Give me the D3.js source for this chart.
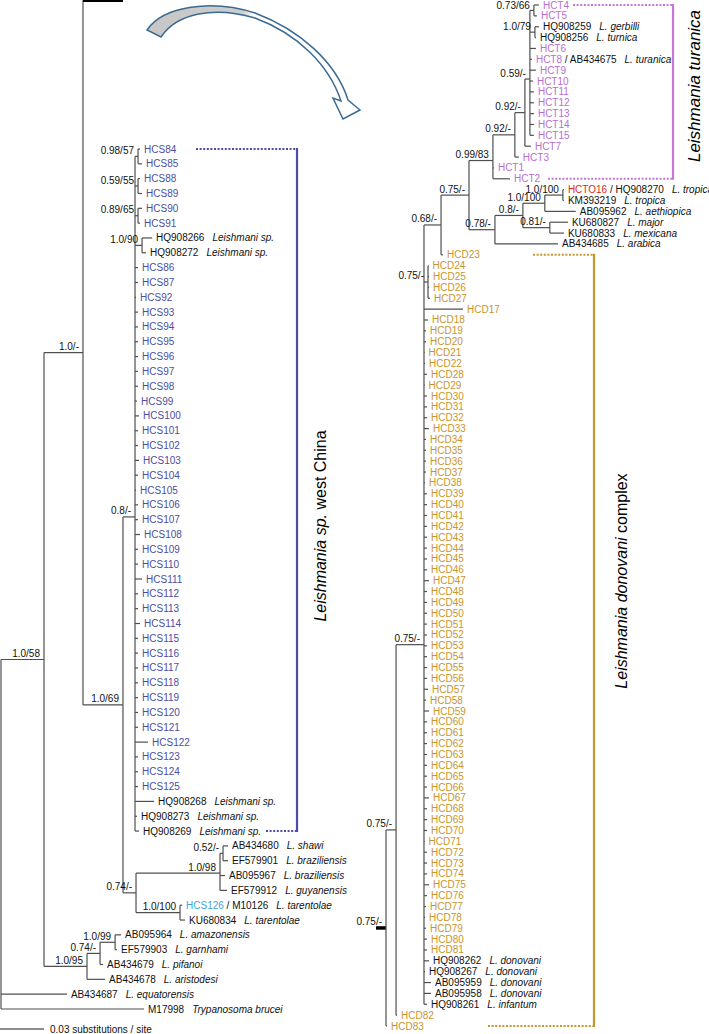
<!DOCTYPE html>
<html><head><meta charset="utf-8">
<script src="https://cdn.jsdelivr.net/npm/d3@7"></script>
<style>
body{margin:0;background:#fff;}
svg text{font-family:"Liberation Sans",Arial,Helvetica,sans-serif;white-space:pre;}
</style></head><body>
<svg id="chart" width="709" height="1034"></svg>
<script>
// ---------- DATA ----------
// internal nodes: [id, parent, branch length (subst./site), support (posterior/bootstrap)]
const internalNodes = [
["root", null, 0, ""],
["N58","root",0.0300,"1.0/58"],
["N10","N58",0.0272,"1.0/-"],
["RT","N10",0.0279,"0.75/-"],
["N075a","RT",0.0070,"0.75/-"],
["N075b","N075a",0.0195,"0.75/-"],
["N068","N075b",0.0119,"0.68/-"],
["N075c","N068",0.0195,"0.75/-"],
["N099","N075c",0.0167,"0.99/83"],
["N092a","N099",0.0153,"0.92/-"],
["N092b","N092a",0.0070,"0.92/-"],
["N059","N092b",0.0035,"0.59/-"],
["N7366","N059",0.0028,"0.73/66"],
["N079","N059",0.0035,"1.0/79"],
["N078","N075c",0.0181,"0.78/-"],
["N08r","N078",0.0195,"0.8/-"],
["N100a","N08r",0.0153,"1.0/100"],
["N100b","N100a",0.0126,"1.0/100"],
["N081","N08r",0.0188,"0.81/-"],
["N075d","N075b",0.0028,"0.75/-"],
["N69","N10",0.0279,"1.0/69"],
["N08","N69",0.0084,"0.8/-"],
["N0957","N08",0.0021,"0.98/57"],
["N5955","N08",0.0021,"0.59/55"],
["N8965","N08",0.0021,"0.89/65"],
["N9010","N08",0.0049,"1.0/90"],
["N074","N69",0.0091,"0.74/-"],
["N98","N074",0.0586,"1.0/98"],
["N052","N98",0.0021,"0.52/-"],
["N100L","N074",0.0307,"1.0/100"],
["N95","N58",0.0300,"1.0/95"],
["N074b","N95",0.0091,"0.74/-"],
["N99","N074b",0.0105,"1.0/99"]
];

// leaves of the moved subtree (right column), top to bottom:
// [name, parent, branch length, linked accession, species]
const rightLeaves = [
["HCT4","N7366",0.0035],
["HCT5","N7366",0.0021],
["HQ908259","N079",0.0028,"","L. gerbilli"],
["HQ908256","N079",0.0007,"","L. turnica"],
["HCT6","N059",0.0042],
["HCT8","N059",0.0014,"AB434675","L. turanica"],
["HCT9","N059",0.0042],
["HCT10","N059",0.0021],
["HCT11","N059",0.0028],
["HCT12","N059",0.0028],
["HCT13","N059",0.0028],
["HCT14","N059",0.0028],
["HCT15","N059",0.0028],
["HCT7","N092b",0.0042],
["HCT3","N092a",0.0028],
["HCT1","N099",0.0007],
["HCT2","N099",0.0119],
["HCTO16","N100b",0.0007,"HQ908270","L. tropica"],
["KM393219","N100b",0.0007,"","L. tropica"],
["AB095962","N100a",0.0216,"","L. aethiopica"],
["KU680827","N081",0.0126,"","L. major"],
["KU680833","N081",0.0098,"","L. mexicana"],
["AB434685","N078",0.0440,"","L. arabica"],
["HCD23","N068",0.0014],
["HCD24","N075d",0.0004],
["HCD25","N075d",0.0007],
["HCD26","N075d",0.0007],
["HCD27","N075d",0.0014],
["HCD17","N075b",0.0272],
["HCD18","N075b",0.0028],
["HCD19","N075b",0.0014],
["HCD20","N075b",0.0014],
["HCD21","N075b",0.0004],
["HCD22","N075b",0.0007],
["HCD28","N075b",0.0021],
["HCD29","N075b",0.0004],
["HCD30","N075b",0.0021],
["HCD31","N075b",0.0021],
["HCD32","N075b",0.0021],
["HCD33","N075b",0.0035],
["HCD34","N075b",0.0014],
["HCD35","N075b",0.0014],
["HCD36","N075b",0.0014],
["HCD37","N075b",0.0014],
["HCD38","N075b",0.0007],
["HCD39","N075b",0.0021],
["HCD40","N075b",0.0021],
["HCD41","N075b",0.0021],
["HCD42","N075b",0.0021],
["HCD43","N075b",0.0021],
["HCD44","N075b",0.0021],
["HCD45","N075b",0.0021],
["HCD46","N075b",0.0021],
["HCD47","N075b",0.0035],
["HCD48","N075b",0.0021],
["HCD49","N075b",0.0021],
["HCD50","N075b",0.0021],
["HCD51","N075b",0.0021],
["HCD52","N075b",0.0021],
["HCD53","N075b",0.0021],
["HCD54","N075b",0.0021],
["HCD55","N075b",0.0021],
["HCD56","N075b",0.0021],
["HCD57","N075b",0.0028],
["HCD58","N075b",0.0014],
["HCD59","N075b",0.0035],
["HCD60","N075b",0.0021],
["HCD61","N075b",0.0021],
["HCD62","N075b",0.0021],
["HCD63","N075b",0.0021],
["HCD64","N075b",0.0021],
["HCD65","N075b",0.0021],
["HCD66","N075b",0.0021],
["HCD67","N075b",0.0035],
["HCD68","N075b",0.0021],
["HCD69","N075b",0.0021],
["HCD70","N075b",0.0021],
["HCD71","N075b",0.0004],
["HCD72","N075b",0.0021],
["HCD73","N075b",0.0021],
["HCD74","N075b",0.0021],
["HCD75","N075b",0.0035],
["HCD76","N075b",0.0021],
["HCD77","N075b",0.0014],
["HCD78","N075b",0.0007],
["HCD79","N075b",0.0014],
["HCD80","N075b",0.0021],
["HCD81","N075b",0.0021],
["HQ908262","N075b",0.0035,"","L. donovani"],
["HQ908267","N075b",0.0007,"","L. donovani"],
["AB095959","N075b",0.0049,"","L. donovani"],
["AB095958","N075b",0.0049,"","L. donovani"],
["HQ908261","N075b",0.0021,"","L. infantum"],
["HCD82","N075a",0.0007],
["HCD83","RT",0.0007]
];

// leaves of the main (left) column, top to bottom
const leftLeaves = [
["HCS84","N0957",0.0014],
["HCS85","N0957",0.0028],
["HCS88","N5955",0.0014],
["HCS89","N5955",0.0028],
["HCS90","N8965",0.0028],
["HCS91","N8965",0.0014],
["HQ908266","N9010",0.0070,"","Leishmani sp."],
["HQ908272","N9010",0.0028,"","Leishmani sp."],
["HCS86","N08",0.0021],
["HCS87","N08",0.0021],
["HCS92","N08",0.0007],
["HCS93","N08",0.0021],
["HCS94","N08",0.0021],
["HCS95","N08",0.0021],
["HCS96","N08",0.0021],
["HCS97","N08",0.0021],
["HCS98","N08",0.0021],
["HCS99","N08",0.0014],
["HCS100","N08",0.0028],
["HCS101","N08",0.0021],
["HCS102","N08",0.0021],
["HCS103","N08",0.0028],
["HCS104","N08",0.0021],
["HCS105","N08",0.0007],
["HCS106","N08",0.0021],
["HCS107","N08",0.0021],
["HCS108","N08",0.0035],
["HCS109","N08",0.0021],
["HCS110","N08",0.0021],
["HCS111","N08",0.0049],
["HCS112","N08",0.0021],
["HCS113","N08",0.0021],
["HCS114","N08",0.0035],
["HCS115","N08",0.0021],
["HCS116","N08",0.0021],
["HCS117","N08",0.0021],
["HCS118","N08",0.0021],
["HCS119","N08",0.0021],
["HCS120","N08",0.0021],
["HCS121","N08",0.0021],
["HCS122","N08",0.0091],
["HCS123","N08",0.0021],
["HCS124","N08",0.0021],
["HCS125","N08",0.0021],
["HQ908268","N08",0.0133,"","Leishmani sp."],
["HQ908273","N08",0.0014,"","Leishmani sp."],
["HQ908269","N08",0.0028,"","Leishmani sp."],
["AB434680","N052",0.0035,"","L. shawi"],
["EF579901","N052",0.0035,"","L. braziliensis"],
["AB095967","N98",0.0035,"","L. braziliensis"],
["EF579912","N98",0.0049,"","L. guyanensis"],
["HCS126","N100L",0.0014,"M10126","L. tarentolae"],
["KU680834","N100L",0.0035,"","L. tarentolae"],
["AB095964","N99",0.0042,"","L. amazonensis"],
["EF579903","N99",0.0014,"","L. garnhami"],
["AB434679","N074b",0.0021,"","L. pifanoi"],
["AB434678","N95",0.0126,"","L. aristodesi"],
["AB434687","root",0.0460,"","L. equatorensis"],
["M17998","root",0.0998,"","Trypanosoma brucei"]
];

const cutNodeId = "RT";          // subtree moved to the right column
const scaleBarValue = 0.03;
const scaleBarLabel = "0.03 substitutions / site";

// clade annotations
const clades = [
  {first:"HCS84", last:"HQ908269", panel:"left",  key:"blue",
   label:[["Leishmania sp.",true],[" west China",false]]},
  {first:"HCT4",  last:"HCT2",     panel:"right", key:"pink",
   label:[["Leishmania turanica",true]]},
  {first:"HCD23", last:"HCD83",    panel:"right", key:"gold",
   label:[["Leishmania donovani",true],[" complex",false]]}
];

// ---------- STYLES / LAYOUT ----------
const colors = {HCS:"#4d4da3", HCT:"#b96ecf", HCD:"#c8952c", HCTO16:"#e1261c", HCS126:"#3ea4dc",
  blue:"#4d4da8", pink:"#c577d8", gold:"#c9962d", branch:"#4f4f4f", ref:"#111"};
const cladeLayout = {
  blue:{bx:297, top:196, bottom:266, lx:326, ly:526, fs:16},
  pink:{bx:673, top:573, bottom:548, lx:700, ly:86,  fs:17},
  gold:{bx:594, top:533, bottom:488, lx:627, ly:581, fs:16}
};

const svg = d3.select("#chart");
const W = 709, H = 1034;
svg.append("rect").attr("width",W).attr("height",H).attr("fill","#fff");

// ---------- HIERARCHY ----------
const rows = internalNodes.map(d=>({id:d[0], parent:d[1], len:d[2], support:d[3]}))
  .concat(rightLeaves.concat(leftLeaves).map(d=>({id:d[0], parent:d[1], len:d[2], acc:d[3]||"", sp:d[4]||""})));
const root = d3.stratify().id(d=>d.id).parentId(d=>d.parent)(rows);

const rIndex = new Map(rightLeaves.map((d,i)=>[d[0],i]));
const lIndex = new Map(leftLeaves.map((d,i)=>[d[0],i]));
const order = id => rIndex.has(id) ? rIndex.get(id) : 1000 + lIndex.get(id);
root.eachAfter(n => n.minOrder = n.children ? d3.min(n.children, c=>c.minOrder) : order(n.id));
root.sort((a,b)=>a.minOrder-b.minOrder);
root.eachBefore(n => n.dist = n.parent ? n.parent.dist + n.data.len : 0);

const rt = root.find(n=>n.id===cutNodeId);
rt.eachBefore(n => n.rdist = n===rt ? 0 : n.parent.rdist + n.data.len);
rt.eachAfter(n => n.ridx = n.children ? d3.mean(n.children, c=>c.ridx) : rIndex.get(n.id));

// scales
const xL = d3.scaleLinear().domain([0, scaleBarValue]).range([1, 44]);
const yL = d3.scaleLinear().domain([0, leftLeaves.length-1]).range([149, 1009]);
const xR = d3.scaleLinear().domain([0, scaleBarValue]).range([386, 429]);
const yR = d3.scaleLinear().domain([0, rightLeaves.length-1]).range([5, 1026]);

// left-column index; moved subtree keeps its place in the original (unsplit) order
function leftIdx(n){
  if (n===rt) { n.lidx = rt.ridx - rightLeaves.length; return n.lidx; }
  if (!n.children) { n.lidx = lIndex.get(n.id); return n.lidx; }
  n.lidx = d3.mean(n.children.map(leftIdx));
  return n.lidx;
}
leftIdx(root);

const leftNodes = [];
(function walk(n){ leftNodes.push(n); if (n!==rt && n.children) n.children.forEach(walk); })(root);
const rightNodes = rt.descendants();

const gBr = svg.append("g").attr("fill","none").attr("stroke",colors.branch).attr("stroke-width",1.2);
const gLab = svg.append("g").attr("font-size",10);

function leafColor(name){
  if (colors[name]) return colors[name];
  const p = name.slice(0,3);
  return colors[p] || colors.ref;
}

function drawPanel(nodes, xf, yf, isRight){
  nodes.forEach(n=>{
    const x = xf(n), y = yf(n);
    if (n.parent && !(isRight && n===rt)) {
      const px = xf(n.parent);
      const thick = (!isRight && n===rt);
      gBr.append("line").attr("x1",px).attr("x2",x).attr("y1",y).attr("y2",y)
        .attr("stroke", thick ? "#000" : null).attr("stroke-width", thick ? 3.5 : null);
    }
    if (isRight && n===rt) {
      gBr.append("line").attr("x1",xR(-0.007)).attr("x2",x).attr("y1",y).attr("y2",y)
        .attr("stroke","#000").attr("stroke-width",3.5);
    }
    if (n.children && !( !isRight && n===rt)) {
      const ys = n.children.map(yf);
      gBr.append("line").attr("x1",x).attr("x2",x).attr("y1",d3.min(ys)).attr("y2",d3.max(ys));
      if (n.data.support) {
        gLab.append("text").attr("x",x-4).attr("y",Math.max(y-2.5, 9)).attr("text-anchor","end")
          .attr("fill","#111").text(n.data.support);
      }
    }
    if (!n.children) {
      const t = gLab.append("text").attr("x",x+4).attr("y",y+3.5);
      t.append("tspan").attr("fill",leafColor(n.id)).text(n.id);
      if (n.data.acc) t.append("tspan").attr("fill",colors.ref).text(" / "+n.data.acc);
      if (n.data.sp) t.append("tspan").attr("dx",8).attr("fill",colors.ref)
        .attr("font-style","italic").text(n.data.sp);
    }
  });
}

drawPanel(leftNodes, n=>xL(n.dist), n=>yL(n.lidx), false);
drawPanel(rightNodes, n=>xR(n.rdist), n=>yR(n.ridx), true);

// ---------- CLADE BRACKETS ----------
clades.forEach(c=>{
  const L = cladeLayout[c.key], col = colors[c.key];
  const ys = c.panel==="left" ? yL : yR;
  const idx = c.panel==="left" ? lIndex : rIndex;
  const y1 = ys(idx.get(c.first)), y2 = ys(idx.get(c.last));
  const g = svg.append("g").attr("stroke",col).attr("fill","none");
  g.append("line").attr("x1",L.top).attr("x2",L.bx).attr("y1",y1).attr("y2",y1)
    .attr("stroke-width",2).attr("stroke-dasharray","2,1.6");
  g.append("line").attr("x1",L.bottom).attr("x2",L.bx).attr("y1",y2).attr("y2",y2)
    .attr("stroke-width",2).attr("stroke-dasharray","2,1.6");
  g.append("line").attr("x1",L.bx).attr("x2",L.bx).attr("y1",y1-1).attr("y2",y2+1).attr("stroke-width",2.2);
  const t = svg.append("text").attr("transform",`translate(${L.lx},${L.ly}) rotate(-90)`)
    .attr("text-anchor","middle").attr("font-size",L.fs).attr("fill","#000");
  c.label.forEach(([s,it])=>t.append("tspan").attr("font-style",it?"italic":"normal").text(s));
});

// ---------- SCALE BAR ----------
svg.append("line").attr("x1",xL(0)-1).attr("x2",xL(scaleBarValue)).attr("y1",1029).attr("y2",1029)
  .attr("stroke","#666").attr("stroke-width",1.5);
svg.append("text").attr("x",50).attr("y",1032.5).attr("font-size",10).attr("fill","#111").text(scaleBarLabel);

// ---------- ARROW ----------
const defs = svg.append("defs");
const grad = defs.append("linearGradient").attr("id","arrowFill").attr("gradientUnits","userSpaceOnUse")
  .attr("x1",145).attr("y1",0).attr("x2",362).attr("y2",0);
grad.append("stop").attr("offset",0).attr("stop-color","#c6c6c6");
grad.append("stop").attr("offset",0.45).attr("stop-color","#cdcdcd");
grad.append("stop").attr("offset",0.5).attr("stop-color","#ffffff");
svg.append("path")
  .attr("d","M147,30 C163,6 212,-1 255,13 C300,30 336,62 348,100 L360,110 L343,119 L333,98 L341,101 C329,65 298,34 255,18 C214,6 177,13 161,37 Z")
  .attr("fill","url(#arrowFill)").attr("stroke","#3b6a93").attr("stroke-width",1.5).attr("stroke-linejoin","miter");
</script>
</body></html>
